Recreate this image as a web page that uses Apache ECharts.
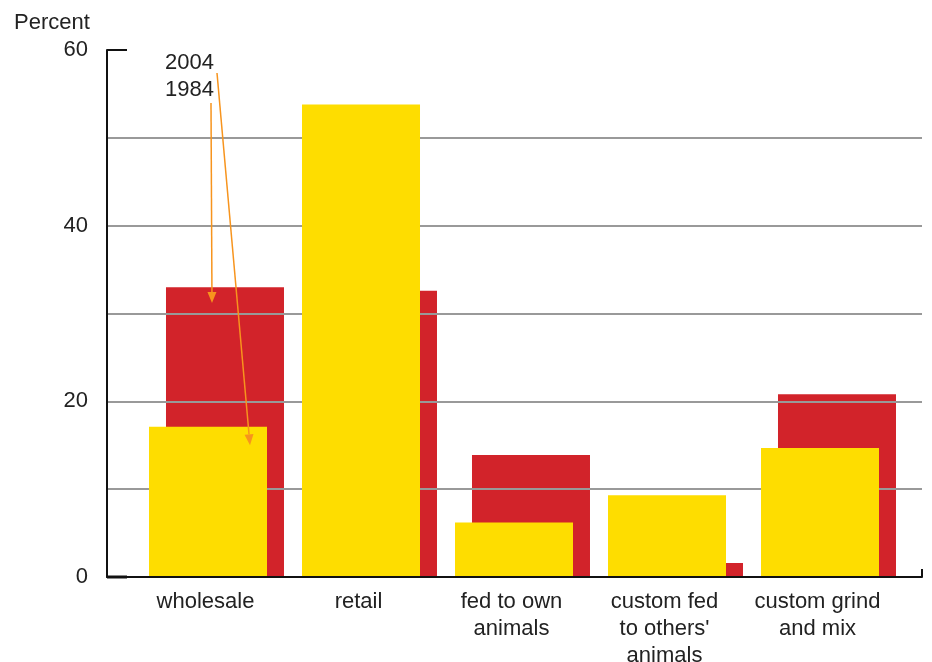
<!DOCTYPE html>
<html><head><meta charset="utf-8">
<script src="https://cdn.jsdelivr.net/npm/echarts@6/dist/echarts.min.js"></script>
<style>html,body{margin:0;padding:0;background:#fff}#c{width:932px;height:662px}</style>
</head><body><div id="c"></div>
<script>
const categories = ['wholesale', 'retail', 'fed to own\nanimals', "custom fed\nto others'\nanimals", 'custom grind\nand mix'];
const values1984 = [17.1, 53.8, 6.2, 9.3, 14.7];
const values2004 = [33.0, 32.6, 13.9, 1.6, 20.8];
const yTicks = [0, 20, 40, 60];
const legendLabels = ['2004', '1984'];

const FONT = 'Liberation Sans, Arial, Helvetica, sans-serif';
const FS = 22;
const chart = echarts.init(document.getElementById('c'), null, {renderer: 'canvas'});
const gridA = {left: 107, right: 10, top: 50, bottom: 85, outerBoundsMode: 'none', containLabel: false};
const gridB = {left: 140, right: 27, top: 50, bottom: 85, outerBoundsMode: 'none', containLabel: false};

chart.setOption({
  animation: false,
  title: {text: 'Percent', left: 9, top: 7, textStyle: {fontFamily: FONT, fontSize: FS, fontWeight: 'normal', color: '#222'}},
  grid: [gridA, gridB],
  xAxis: [
    {gridIndex: 0, type: 'value', min: 0, max: 1, z: 5,
     axisLine: {show: true, lineStyle: {color: '#111', width: 2}},
     axisTick: {show: true, inside: true, length: 8, customValues: [1], lineStyle: {color: '#111', width: 2}},
     axisLabel: {show: false}, splitLine: {show: false}},
    {gridIndex: 1, type: 'category', data: categories,
     axisLine: {show: false}, axisTick: {show: false},
     axisLabel: {interval: 0, fontFamily: FONT, fontSize: FS, color: '#222', lineHeight: 27, margin: 11, padding: [0, 22, 0, 0]}}
  ],
  yAxis: [
    {gridIndex: 0, type: 'value', min: 0, max: 60, interval: 10, z: 1,
     axisLine: {show: true, lineStyle: {color: '#111', width: 2}},
     axisTick: {show: false},
     axisLabel: {fontFamily: FONT, fontSize: FS, color: '#222', margin: 19, padding: [5, 0, 0, 0],
       formatter: v => yTicks.includes(v) ? String(v) : ''},
     splitLine: {show: true, showMinLine: false, showMaxLine: false, lineStyle: {color: '#999', width: 2}}},
    {gridIndex: 1, type: 'value', min: 0, max: 60, interval: 10, show: false, splitLine: {show: false}}
  ],
  series: [
    {name: '1984', type: 'bar', xAxisIndex: 1, yAxisIndex: 1, data: values1984, z: 3,
     barWidth: 118, barGap: '-85.6%', itemStyle: {color: '#FEDD00'}},
    {name: '2004', type: 'bar', xAxisIndex: 1, yAxisIndex: 1, data: values2004, z: 0,
     barWidth: 118, barGap: '-85.6%', itemStyle: {color: '#D2232A'}}
  ]
});

function arrow(x1, y1, x2, y2) {
  const ang = Math.atan2(y2 - y1, x2 - x1);
  const L = 11, W = 4.5;
  const bx = x2 - L * Math.cos(ang), by = y2 - L * Math.sin(ang);
  const px = -Math.sin(ang) * W, py = Math.cos(ang) * W;
  return [
    {type: 'line', z: 10, shape: {x1, y1, x2: bx, y2: by}, style: {stroke: '#F7941D', lineWidth: 1.5}},
    {type: 'polygon', z: 10, shape: {points: [[x2, y2], [bx + px, by + py], [bx - px, by - py]]}, style: {fill: '#F7941D'}}
  ];
}
const yOf = v => chart.convertToPixel({yAxisIndex: 0}, v);
const xLeft = chart.convertToPixel({xAxisIndex: 0}, 0);
const g = [
  {type: 'line', z: 10, shape: {x1: xLeft, y1: yOf(60), x2: xLeft + 20, y2: yOf(60)}, style: {stroke: '#111', lineWidth: 2}},
  {type: 'line', z: 10, shape: {x1: xLeft, y1: yOf(0), x2: xLeft + 20, y2: yOf(0)}, style: {stroke: '#111', lineWidth: 3}},
  {type: 'text', z: 10, style: {text: legendLabels[0], x: 214, y: 63, align: 'right', verticalAlign: 'middle', font: FS + 'px ' + FONT, fill: '#222'}},
  {type: 'text', z: 10, style: {text: legendLabels[1], x: 214, y: 90, align: 'right', verticalAlign: 'middle', font: FS + 'px ' + FONT, fill: '#222'}}
].concat(arrow(217, 73, 250, yOf(15.0)), arrow(211, 103, 212, yOf(31.2)));
chart.setOption({graphic: g});
</script></body></html>
